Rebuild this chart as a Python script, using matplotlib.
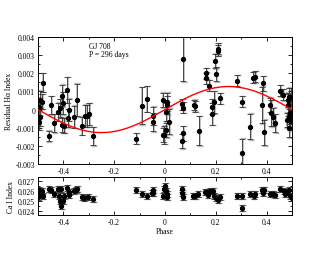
import numpy as np
import matplotlib
matplotlib.use('Agg')
import matplotlib.pyplot as plt
from matplotlib.ticker import MultipleLocator, FuncFormatter

plt.rcParams['font.family'] = ['Liberation Serif', 'DejaVu Serif']

# Residual H-alpha index vs phase (top panel)
phase_ha = [-0.482, -0.492, -0.484, -0.495, -0.492, -0.495, -0.458, -0.448, -0.436, -0.422,
            -0.413, -0.405, -0.403, -0.405, -0.396, -0.386, -0.379, -0.381, -0.357, -0.348,
            -0.328, -0.314, -0.308, -0.300, -0.282, -0.114, -0.092, -0.072, -0.048, -0.046,
            -0.009, -0.007, -0.004, 0.004, 0.007, 0.009, 0.004, 0.015, 0.072, 0.068,
            0.070, 0.114, 0.119, 0.072, 0.068, 0.135, 0.209, 0.207, 0.198, 0.200,
            0.163, 0.163, 0.173, 0.217, 0.193, 0.185, 0.186, 0.285, 0.303, 0.303,
            0.335, 0.348, 0.354, 0.385, 0.382, 0.389, 0.413, 0.417, 0.426, 0.434,
            0.454, 0.466, 0.483, 0.487, 0.496, 0.485, 0.492, 0.487, 0.479, 0.493, 0.489]
ha = [0.00149, 0.00053, 0.00044, 0.00016, -0.00039, -0.00070, -0.00146, 0.00025, -0.00076, -0.00012,
      0.00007, 0.00077, 0.00035, -0.00085, -0.00089, 0.00108, -0.00002, -0.00048, -0.00039, 0.00053,
      -0.00089, -0.00035, -0.00035, -0.00026, -0.00146, -0.00160, 0.00022, 0.00059, -0.00034, -0.00070,
      0.00053, -0.00139, -0.00140, -0.00012, 0.00025, 0.00044, -0.00113, -0.00067, 0.00280, 0.00029,
      0.00010, 0.00025, 0.00018, -0.00131, -0.00173, -0.00117, 0.00335, 0.00325, 0.00268, 0.00195,
      0.00200, 0.00173, 0.00132, 0.00062, 0.00040, 0.00016, -0.00023, 0.00158, 0.00044, -0.00241,
      -0.00094, 0.00176, 0.00180, 0.00145, 0.00025, -0.00125, 0.00025, -0.00020, -0.00039, -0.00076,
      0.00103, 0.00081, 0.00053, 0.00071, 0.00071, 0.00025, -0.00020, -0.00039, -0.00057, -0.00063, -0.00103]
ha_err = [0.0005, 0.0005, 0.0004, 0.0005, 0.0005, 0.0004, 0.0003, 0.0005, 0.0005, 0.0005,
          0.0005, 0.0006, 0.0006, 0.0004, 0.0004, 0.0007, 0.0006, 0.0005, 0.0006, 0.0009,
          0.0005, 0.0006, 0.0006, 0.0006, 0.0005, 0.0003, 0.0010, 0.0007, 0.0005, 0.0005,
          0.0004, 0.0004, 0.0005, 0.0005, 0.0005, 0.0005, 0.0004, 0.0007, 0.0012, 0.0003,
          0.0003, 0.0003, 0.0003, 0.0004, 0.0004, 0.0008, 0.0003, 0.0003, 0.0004, 0.0004,
          0.0003, 0.0003, 0.0003, 0.0003, 0.0006, 0.0004, 0.0006, 0.0003, 0.0003, 0.0008,
          0.0007, 0.0003, 0.0003, 0.0004, 0.0010, 0.0007, 0.0004, 0.0007, 0.0005, 0.0005,
          0.0003, 0.0003, 0.0004, 0.0005, 0.0005, 0.0006, 0.0006, 0.0004, 0.0004, 0.0005, 0.0005]

# Ca I index vs phase (bottom panel)
phase_ca = [-0.495, -0.497, -0.492, -0.484, -0.482, -0.500, -0.458, -0.449, -0.436, -0.422,
            -0.409, -0.418, -0.413, -0.409, -0.400, -0.396, -0.386, -0.379, -0.377, -0.357,
            -0.350, -0.345, -0.327, -0.318, -0.304, -0.282, -0.114, -0.092, -0.072, -0.050,
            -0.048, -0.046, -0.009, -0.004, 0.000, 0.004, 0.007, 0.009, 0.066, 0.068,
            0.070, 0.109, 0.118, 0.131, 0.157, 0.167, 0.171, 0.177, 0.190, 0.193,
            0.201, 0.210, 0.217, 0.283, 0.303, 0.303, 0.336, 0.349, 0.353, 0.382,
            0.385, 0.389, 0.415, 0.424, 0.432, 0.454, 0.467, 0.474, 0.480, 0.487, 0.493, 0.500]
ca = [0.02613, 0.02580, 0.02563, 0.02597, 0.02547, 0.02540, 0.02623, 0.02607, 0.02573, 0.02623,
      0.02623, 0.02547, 0.02497, 0.02447, 0.02497, 0.02547, 0.02630, 0.02563, 0.02587, 0.02597,
      0.02613, 0.02620, 0.02540, 0.02530, 0.02537, 0.02520, 0.02610, 0.02570, 0.02550, 0.02575,
      0.02580, 0.02607, 0.02547, 0.02620, 0.02647, 0.02597, 0.02573, 0.02540, 0.02620, 0.02580,
      0.02540, 0.02553, 0.02553, 0.02570, 0.02587, 0.02590, 0.02563, 0.02597, 0.02597, 0.02553,
      0.02530, 0.02513, 0.02540, 0.02547, 0.02547, 0.02430, 0.02573, 0.02553, 0.02573, 0.02613,
      0.02580, 0.02607, 0.02573, 0.02573, 0.02563, 0.02620, 0.02597, 0.02573, 0.02587, 0.02607, 0.02547, 0.02530]
ca_err = [0.0003] * len(ca)

# sinusoidal fit, P = 296 days
fit_amp = 0.00127
fit_phase = np.linspace(-0.5, 0.5, 300)
fit_ha = fit_amp * np.sin(2 * np.pi * fit_phase)

fig = plt.figure(figsize=(3.3, 2.55), dpi=100)
ax1 = fig.add_axes([0.115, 0.353, 0.77, 0.498])
ax2 = fig.add_axes([0.115, 0.153, 0.77, 0.149])

gray = '#b8b8b8'
ax1.errorbar(np.array(phase_ha) + 0.003, ha, yerr=np.array(ha_err) * 1.05, fmt='none',
             ecolor=gray, elinewidth=1.2, capsize=2, capthick=1.0, zorder=1)
ax1.errorbar(phase_ha, ha, yerr=ha_err, fmt='o', color='black', ms=2.8,
             ecolor='#333333', elinewidth=0.6, capsize=2, capthick=0.6, zorder=2)
ax1.plot(fit_phase, fit_ha, color='red', lw=1.0, zorder=3)

ax2.errorbar(np.array(phase_ca) + 0.003, ca, yerr=ca_err, fmt='none',
             ecolor=gray, elinewidth=1.2, capsize=2, capthick=1.0, zorder=1)
ax2.errorbar(phase_ca, ca, yerr=ca_err, fmt='o', color='black', ms=2.8,
             ecolor='#333333', elinewidth=0.6, capsize=2, capthick=0.6, zorder=2)

def fmt(v, pos):
    if abs(v) < 1e-12:
        return '0'
    return '%.3f' % v

def fmtx(v, pos):
    if abs(v) < 1e-9:
        return '0'
    return '%.1f' % v

ax1.set_xlim(-0.5, 0.5)
ax1.set_ylim(-0.003, 0.004)
ax1.yaxis.set_major_locator(MultipleLocator(0.001))
ax1.yaxis.set_minor_locator(MultipleLocator(0.0005))
ax1.yaxis.set_major_formatter(FuncFormatter(fmt))
ax1.set_ylabel('Residual H\u03b1 Index', fontsize=5.5, labelpad=2)
ax1.text(-0.30, 0.00375, 'GJ 708\nP = 296 days', fontsize=5.5, va='top', ha='left',
         linespacing=1.1)

ax2.set_xlim(-0.5, 0.5)
ax2.set_ylim(0.0236, 0.0274)
ax2.yaxis.set_major_locator(MultipleLocator(0.001))
ax2.yaxis.set_minor_locator(MultipleLocator(0.0005))
ax2.yaxis.set_major_formatter(FuncFormatter(fmt))
ax2.set_ylabel('Ca I Index', fontsize=5.5, labelpad=2)
ax2.set_xlabel('Phase', fontsize=5.5, labelpad=1)

for ax in (ax1, ax2):
    ax.xaxis.set_major_locator(MultipleLocator(0.2))
    ax.xaxis.set_minor_locator(MultipleLocator(0.1))
    ax.xaxis.set_major_formatter(FuncFormatter(fmtx))
    ax.tick_params(which='both', direction='in', top=True, right=True,
                   labelsize=5.5, width=0.6, pad=2)
    ax.tick_params(which='major', length=3)
    ax.tick_params(which='minor', length=1.5)
    for sp in ax.spines.values():
        sp.set_linewidth(0.7)

fig.savefig('out.png', dpi=100)
